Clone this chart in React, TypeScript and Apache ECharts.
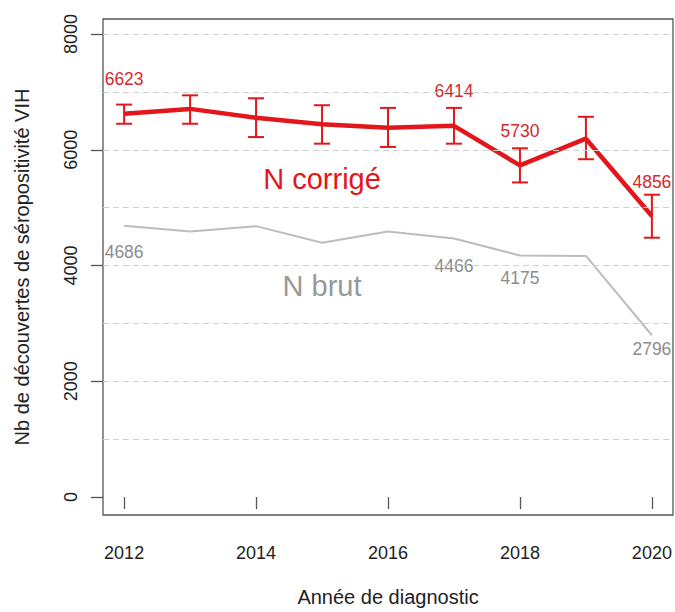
import React, { useEffect, useRef } from "react";
import * as echarts from "echarts";

const years = [2012, 2013, 2014, 2015, 2016, 2017, 2018, 2019, 2020];
const corrige = [6623, 6707, 6552, 6440, 6380, 6414, 5730, 6192, 4856];
const corrigeLow = [6450, 6450, 6220, 6106, 6049, 6106, 5436, 5837, 4481];
const corrigeHigh = [6781, 6941, 6890, 6770, 6724, 6724, 6026, 6570, 5224];
const brut = [4686, 4589, 4681, 4395, 4589, 4466, 4175, 4166, 2796];
const labeledYears = [2012, 2017, 2018, 2020];
const yTicks = [0, 2000, 4000, 6000, 8000];
const xTicks = [2012, 2014, 2016, 2018, 2020];
const gridValues = [1000, 2000, 3000, 4000, 5000, 6000, 7000, 8000];
const seriesNames = ["N corrigé", "N brut"];
const seriesNamePos = [
  [2015, 5500],
  [2015, 3650],
];

const RED = "#e3161b";
const GREY_LINE = "#bdbdbd";
const GREY_TEXT = "#8c8c8c";
const FONT = "Liberation Sans, Arial, sans-serif";

const brutLabelDist: Record<number, number> = { 2012: 17, 2017: 18, 2018: 13, 2020: 4 };

export default function App() {
  const ref = useRef<HTMLDivElement>(null);
  useEffect(() => {
    if (!ref.current) return;
    const chart = echarts.init(ref.current, null, { renderer: "svg" });
    const option: any = {
      animation: false,
      textStyle: { fontFamily: FONT },
      grid: {
        left: 103,
        right: 2,
        top: 19,
        bottom: 94,
        show: true,
        borderColor: "#555",
        borderWidth: 1.3,
        backgroundColor: "transparent",
      },
      xAxis: {
        type: "value",
        min: 2011.68,
        max: 2020.32,
        name: "Année de diagnostic",
        nameLocation: "middle",
        nameGap: 72,
        nameTextStyle: { fontSize: 20, color: "#222", fontFamily: FONT },
        axisLine: { show: false },
        splitLine: { show: false },
        axisTick: {
          show: true,
          customValues: xTicks,
          length: 12,
          lineStyle: { color: "#555", width: 1.3 },
        },
        axisLabel: {
          customValues: xTicks,
          margin: 29,
          fontSize: 18,
          color: "#222",
          fontFamily: FONT,
          formatter: (v: number) => String(v),
        },
      },
      yAxis: {
        type: "value",
        min: -310,
        max: 8260,
        name: "Nb de découvertes de séropositivité VIH",
        nameLocation: "middle",
        nameRotate: 90,
        nameGap: 71,
        nameTextStyle: { fontSize: 20, color: "#222", fontFamily: FONT },
        axisLine: { show: false },
        splitLine: { show: false },
        axisTick: {
          show: true,
          customValues: yTicks,
          length: 12,
          lineStyle: { color: "#555", width: 1.3 },
        },
        axisLabel: {
          customValues: yTicks,
          rotate: 90,
          margin: 23,
          fontSize: 18,
          color: "#222",
          fontFamily: FONT,
          formatter: (v: number) => String(v),
        },
      },
      series: [
        {
          type: "line",
          data: [],
          z: 0,
          silent: true,
          markLine: {
            silent: true,
            symbol: "none",
            label: { show: false },
            lineStyle: { color: "#cfcfcf", width: 1, type: [6, 4] },
            data: gridValues.map((v) => ({ yAxis: v })),
          },
        },
        {
          name: seriesNames[1],
          type: "line",
          z: 2,
          symbol: "circle",
          symbolSize: 1,
          showSymbol: true,
          lineStyle: { color: GREY_LINE, width: 2 },
          itemStyle: { color: "transparent", borderWidth: 0 },
          data: years.map((y, i) => ({
            value: [y, brut[i]],
            label: labeledYears.includes(y)
              ? {
                  show: true,
                  position: "bottom",
                  distance: brutLabelDist[y] ?? 15,
                  color: GREY_TEXT,
                  fontSize: 17.5,
                  fontFamily: FONT,
                  formatter: String(brut[i]),
                }
              : { show: false },
          })),
          markPoint: {
            symbol: "circle",
            symbolSize: 1,
            itemStyle: { color: "transparent" },
            label: {
              show: true,
              position: "inside",
              fontSize: 29,
              color: "#999",
              fontFamily: FONT,
              formatter: seriesNames[1],
            },
            data: [{ coord: seriesNamePos[1] }],
          },
        },
        {
          name: "err",
          type: "custom",
          z: 3,
          data: years.map((y, i) => [y, corrigeLow[i], corrigeHigh[i]]),
          encode: { x: 0, y: [1, 2] },
          renderItem: (params: any, api: any) => {
            const x = api.value(0);
            const lo = api.coord([x, api.value(1)]);
            const hi = api.coord([x, api.value(2)]);
            const w = 8;
            const style = { stroke: RED, lineWidth: 2 };
            return {
              type: "group",
              children: [
                { type: "line", shape: { x1: lo[0], y1: lo[1], x2: hi[0], y2: hi[1] }, style },
                { type: "line", shape: { x1: lo[0] - w, y1: lo[1], x2: lo[0] + w, y2: lo[1] }, style },
                { type: "line", shape: { x1: hi[0] - w, y1: hi[1], x2: hi[0] + w, y2: hi[1] }, style },
              ],
            };
          },
        },
        {
          name: seriesNames[0],
          type: "line",
          z: 4,
          symbol: "circle",
          symbolSize: 1,
          showSymbol: true,
          lineStyle: { color: RED, width: 4.5 },
          itemStyle: { color: "transparent", borderWidth: 0 },
          data: years.map((y, i) => ({
            value: [y, corrige[i]],
            label: labeledYears.includes(y)
              ? {
                  show: true,
                  position: "top",
                  distance: 25,
                  color: "#d42a2a",
                  fontSize: 17.5,
                  fontFamily: FONT,
                  formatter: String(corrige[i]),
                }
              : { show: false },
          })),
          markPoint: {
            symbol: "circle",
            symbolSize: 1,
            itemStyle: { color: "transparent" },
            label: {
              show: true,
              position: "inside",
              fontSize: 29,
              color: RED,
              fontFamily: FONT,
              formatter: seriesNames[0],
            },
            data: [{ coord: seriesNamePos[0] }],
          },
        },
      ],
    };
    chart.setOption(option);
    return () => chart.dispose();
  }, []);
  return (
    <div
      ref={ref}
      style={{ position: "absolute", left: 0, top: 0, width: 675, height: 612 }}
    />
  );
}
